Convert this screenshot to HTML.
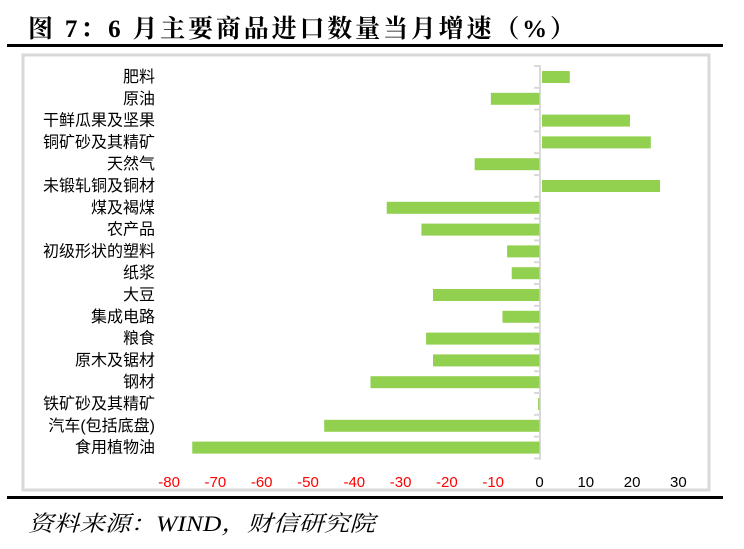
<!DOCTYPE html>
<html><head><meta charset="utf-8"><style>
body{margin:0;background:#fff;width:744px;height:549px;overflow:hidden}
</style></head><body>
<svg width="744" height="549" xmlns="http://www.w3.org/2000/svg" style="position:absolute;left:0;top:0">
<text x="28" y="37" font-family="Liberation Serif, Noto Serif CJK SC, serif" font-weight="bold" font-size="25" fill="#000" textLength="547" lengthAdjust="spacing">图 7：6 月主要商品进口数量当月增速（%）</text>
<rect x="7" y="44" width="716" height="3" fill="#000"/>
<rect x="23" y="55" width="686" height="435" fill="none" stroke="#d9d9d9" stroke-width="3"/>
<rect x="539" y="65" width="2" height="395" fill="#d9d9d9"/>
<g fill="#d9d9d9" id="ticks"></g>
<g id="bars" fill="#92d050"></g>
<g id="labels" font-family="Liberation Sans, Noto Sans CJK SC, sans-serif" font-size="16" fill="#000" text-anchor="end"></g>
<g id="xl" font-family="Liberation Sans, sans-serif" font-size="15" text-anchor="middle"></g>
<rect x="7" y="496" width="716" height="3" fill="#000"/>
<text x="28" y="531" font-family="Liberation Serif, Noto Serif CJK SC, serif" font-style="italic" font-size="22" fill="#000" textLength="347" lengthAdjust="spacingAndGlyphs">资料来源：WIND，财信研究院</text>
</svg>
<script>
var names=["肥料","原油","干鲜瓜果及坚果","铜矿砂及其精矿","天然气","未锻轧铜及铜材","煤及褐煤","农产品","初级形状的塑料","纸浆","大豆","集成电路","粮食","原木及锯材","钢材","铁矿砂及其精矿","汽车(包括底盘)","食用植物油"];
var vals=[6,-10.5,19,23.5,-14,25.5,-33,-25.5,-7,-6,-23,-8,-24.5,-23,-36.5,-0.3,-46.5,-75];
var ns="http://www.w3.org/2000/svg",s=4.63,z=539.5;
function el(t,a,p){var e=document.createElementNS(ns,t);for(var k in a)e.setAttribute(k,a[k]);document.getElementById(p).appendChild(e);return e;}
for(var i=0;i<18;i++){var c=77+21.8*i;
var v=vals[i],x1=v>0?542:z+v*s,w=v>0?v*s:-v*s;
el("rect",{x:x1,y:c-6,width:Math.max(w,1),height:12},"bars");
el("text",{x:155,y:c+5},"labels").textContent=names[i];
el("rect",{x:534,y:66+21.8*i-1,width:5,height:2},"ticks");}
el("rect",{x:534,y:66+21.8*18-1,width:5,height:2},"ticks");
for(var t=-80;t<=30;t+=10){el("text",{x:z+t*s,y:487,fill:t<0?"#ff0000":"#000"},"xl").textContent=t;}
</script>
</body></html>
